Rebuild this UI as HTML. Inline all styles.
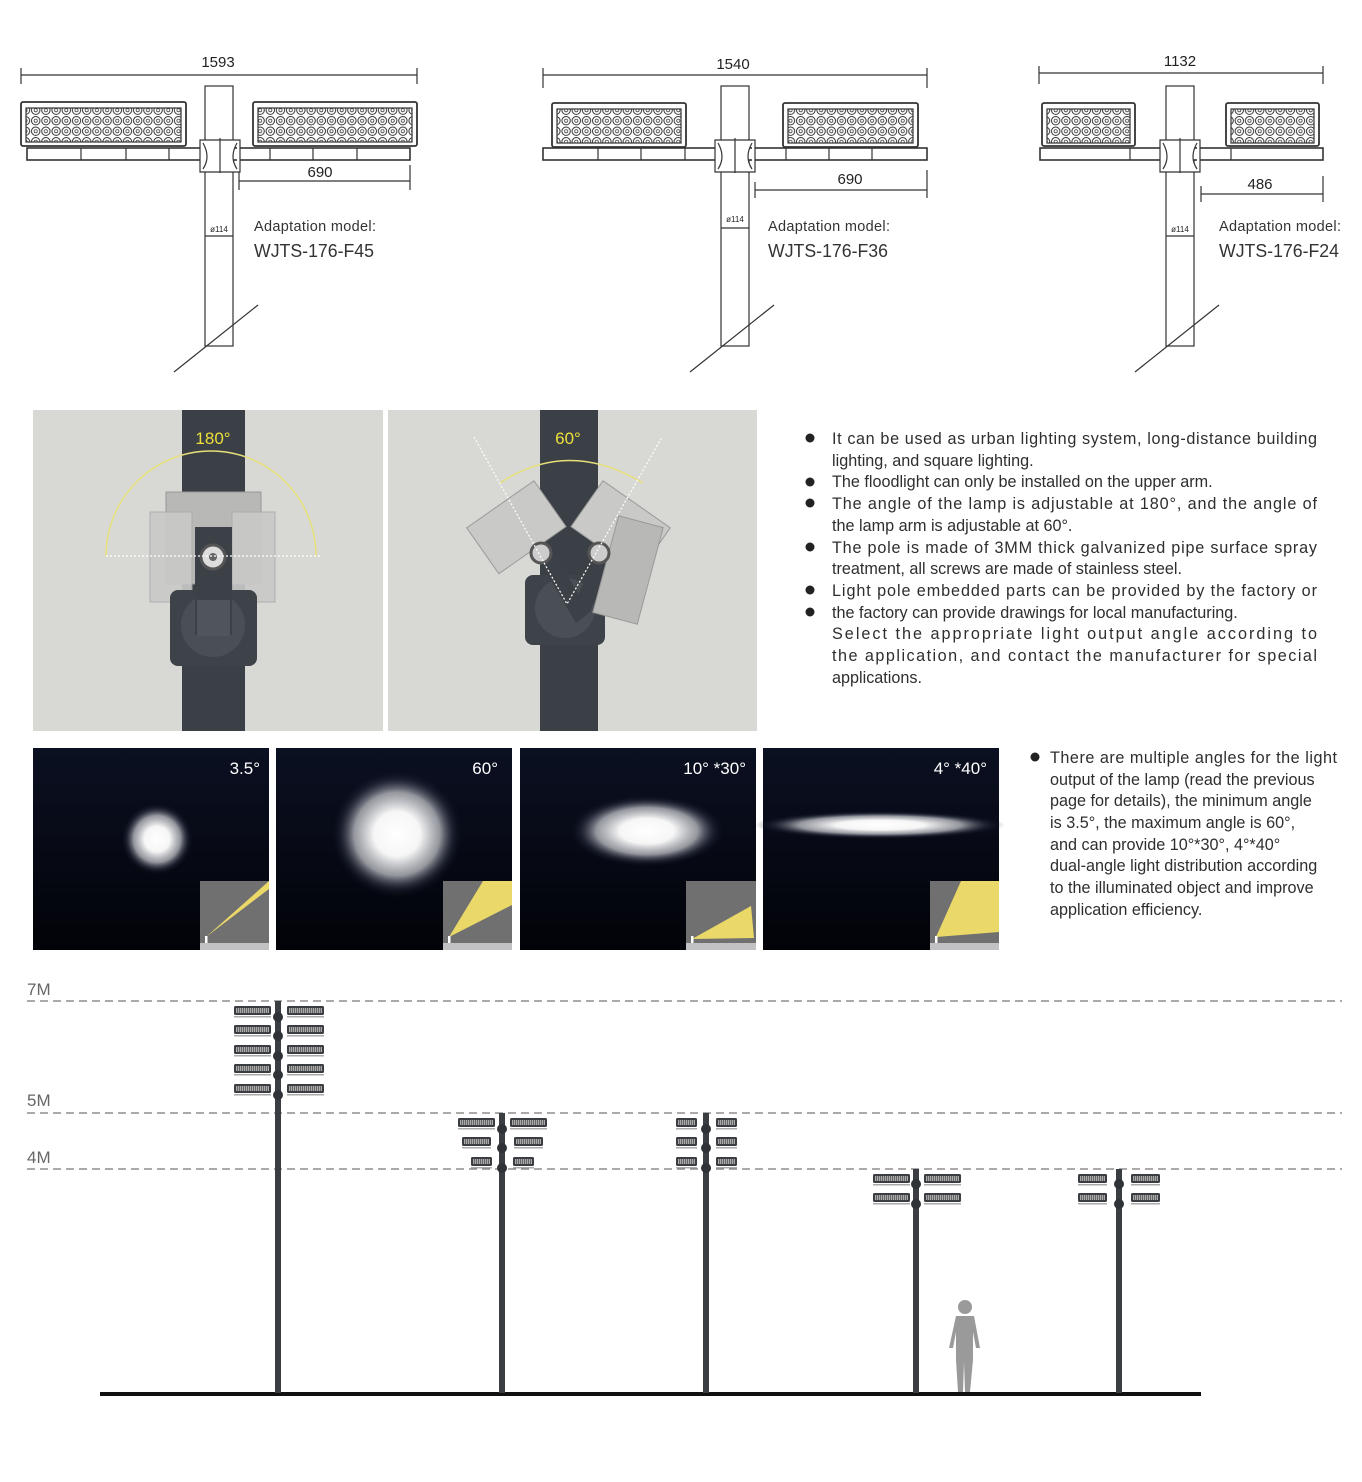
<!DOCTYPE html>
<html><head><meta charset="utf-8"><style>
html,body{margin:0;padding:0;background:#fff;}
svg{display:block;font-family:"Liberation Sans",sans-serif;}
</style></head><body>
<svg width="1362" height="1482" viewBox="0 0 1362 1482" xmlns="http://www.w3.org/2000/svg">
<defs>
<pattern id="led" x="0" y="0" width="10.2" height="10.5" patternUnits="userSpaceOnUse">
<circle cx="5.1" cy="5.2" r="4.2" fill="#fff" stroke="#333" stroke-width="1"/>
<circle cx="5.1" cy="5.2" r="1.6" fill="none" stroke="#444" stroke-width="0.8"/>
</pattern>
<pattern id="sled" width="2" height="3" patternUnits="userSpaceOnUse"><rect width="2" height="3" fill="#666"/><rect width="1" height="3" fill="#aaa"/></pattern>
<radialGradient id="glow"><stop offset="0" stop-color="#fff"/><stop offset="0.35" stop-color="#f6f6f6"/><stop offset="0.65" stop-color="#b8bac0" stop-opacity="0.8"/><stop offset="0.85" stop-color="#3a3f50" stop-opacity="0.4"/><stop offset="1" stop-color="#0a0f1e" stop-opacity="0"/></radialGradient>
<linearGradient id="bg" x1="0" y1="0" x2="0" y2="1"><stop offset="0" stop-color="#0b1022"/><stop offset="1" stop-color="#020308"/></linearGradient>
<g id="slamp"><rect x="0" y="0" width="37" height="9" rx="1.5" fill="#3a3d42"/><rect x="2" y="2" width="33" height="5" fill="url(#sled)"/><rect x="0" y="10" width="37" height="1.5" fill="#aaa"/></g>
<g id="slamp2"><rect x="0" y="0" width="29" height="9" rx="1.5" fill="#3a3d42"/><rect x="2" y="2" width="25" height="5" fill="url(#sled)"/><rect x="0" y="10" width="29" height="1.5" fill="#aaa"/></g>
<g id="slamp3"><rect x="0" y="0" width="21" height="9" rx="1.5" fill="#3a3d42"/><rect x="2" y="2" width="17" height="5" fill="url(#sled)"/><rect x="0" y="10" width="21" height="1.5" fill="#aaa"/></g>
</defs>

<g stroke="#333" fill="none" stroke-width="1.2">
<line x1="21" y1="75" x2="417" y2="75"/><line x1="21" y1="68" x2="21" y2="84"/><line x1="417" y1="68" x2="417" y2="84"/>
<rect x="205" y="86" width="28" height="260" fill="#fff"/>
<rect x="27" y="148" width="383" height="12" fill="#fff" stroke-width="1.6"/>
<line x1="81" y1="148" x2="81" y2="160"/><line x1="126" y1="148" x2="126" y2="160"/><line x1="169" y1="148" x2="169" y2="160"/><line x1="270" y1="148" x2="270" y2="160"/><line x1="313" y1="148" x2="313" y2="160"/><line x1="357" y1="148" x2="357" y2="160"/>
<rect x="21" y="102" width="165" height="44" rx="2" fill="#fff" stroke-width="1.8"/><rect x="26" y="108" width="155" height="34" fill="url(#led)"/>
<rect x="253" y="102" width="164" height="44" rx="2" fill="#fff" stroke-width="1.8"/><rect x="258" y="108" width="154" height="34" fill="url(#led)"/>
<path d="M200 140h40v32h-40z M203 143q8 14 0 26 M237 143q-8 14 0 26 M220 138v35" fill="#fff"/>
<line x1="239" y1="181" x2="410" y2="181"/><line x1="239" y1="172" x2="239" y2="190"/><line x1="410" y1="165" x2="410" y2="190"/>
<line x1="205" y1="236" x2="233" y2="236"/>
<line x1="174" y1="372" x2="258" y2="305"/>
<line x1="543" y1="75" x2="927" y2="75"/><line x1="543" y1="68" x2="543" y2="88"/><line x1="927" y1="68" x2="927" y2="88"/>
<rect x="721" y="86" width="28" height="260" fill="#fff"/>
<rect x="543" y="148" width="384" height="12" fill="#fff" stroke-width="1.6"/>
<line x1="598" y1="148" x2="598" y2="160"/><line x1="641" y1="148" x2="641" y2="160"/><line x1="685" y1="148" x2="685" y2="160"/><line x1="786" y1="148" x2="786" y2="160"/><line x1="829" y1="148" x2="829" y2="160"/><line x1="872" y1="148" x2="872" y2="160"/>
<rect x="552" y="103" width="134" height="44" rx="2" fill="#fff" stroke-width="1.8"/><rect x="557" y="109" width="124" height="34" fill="url(#led)"/>
<rect x="783" y="103" width="135" height="44" rx="2" fill="#fff" stroke-width="1.8"/><rect x="788" y="109" width="125" height="34" fill="url(#led)"/>
<path d="M715 140h40v32h-40z M718 143q8 14 0 26 M752 143q-8 14 0 26 M735 138v35" fill="#fff"/>
<line x1="755" y1="190" x2="927" y2="190"/><line x1="755" y1="182" x2="755" y2="198"/><line x1="927" y1="170" x2="927" y2="198"/>
<line x1="721" y1="228" x2="749" y2="228"/>
<line x1="690" y1="372" x2="774" y2="305"/>
<line x1="1039" y1="73" x2="1323" y2="73"/><line x1="1039" y1="66" x2="1039" y2="84"/><line x1="1323" y1="66" x2="1323" y2="84"/>
<rect x="1166" y="86" width="28" height="260" fill="#fff"/>
<rect x="1040" y="148" width="283" height="12" fill="#fff" stroke-width="1.6"/>
<line x1="1130" y1="148" x2="1130" y2="160"/><line x1="1231" y1="148" x2="1231" y2="160"/>
<rect x="1042" y="103" width="93" height="43" rx="2" fill="#fff" stroke-width="1.8"/><rect x="1047" y="109" width="83" height="34" fill="url(#led)"/>
<rect x="1226" y="103" width="93" height="43" rx="2" fill="#fff" stroke-width="1.8"/><rect x="1231" y="109" width="83" height="34" fill="url(#led)"/>
<path d="M1160 140h40v32h-40z M1163 143q8 14 0 26 M1197 143q-8 14 0 26 M1180 138v35" fill="#fff"/>
<line x1="1201" y1="194" x2="1323" y2="194"/><line x1="1201" y1="186" x2="1201" y2="202"/><line x1="1323" y1="176" x2="1323" y2="202"/>
<line x1="1166" y1="236" x2="1194" y2="236"/>
<line x1="1135" y1="372" x2="1219" y2="305"/>
</g>
<g fill="#222" font-size="15">
<text x="218" y="67" text-anchor="middle">1593</text>
<text x="320" y="177" text-anchor="middle">690</text>
<text x="733" y="69" text-anchor="middle">1540</text>
<text x="850" y="184" text-anchor="middle">690</text>
<text x="1180" y="66" text-anchor="middle">1132</text>
<text x="1260" y="189" text-anchor="middle">486</text>
<text x="219" y="232" text-anchor="middle" font-size="8">ø114</text>
<text x="735" y="222" text-anchor="middle" font-size="8">ø114</text>
<text x="1180" y="232" text-anchor="middle" font-size="8">ø114</text>
</g>
<g fill="#333">
<text x="254" y="231" font-size="14.5" textLength="122">Adaptation model:</text><text x="254" y="257" font-size="18" textLength="120" lengthAdjust="spacingAndGlyphs">WJTS-176-F45</text>
<text x="768" y="231" font-size="14.5" textLength="122">Adaptation model:</text><text x="768" y="257" font-size="18" textLength="120" lengthAdjust="spacingAndGlyphs">WJTS-176-F36</text>
<text x="1219" y="231" font-size="14.5" textLength="122">Adaptation model:</text><text x="1219" y="257" font-size="18" textLength="120" lengthAdjust="spacingAndGlyphs">WJTS-176-F24</text>
</g>

<rect x="33" y="410" width="350" height="321" fill="#d8d8d4"/>
<rect x="182" y="410" width="63" height="321" fill="#3b4047"/>
<path d="M106 556 A105 105 0 0 1 316 556" fill="none" stroke="#e6e07a" stroke-width="1.5"/>
<rect x="166" y="492" width="95" height="92" fill="#b8b8b6" stroke="#999"/>
<rect x="150" y="512" width="42" height="90" fill="#c9cac8" opacity="0.9" stroke="#aaa"/>
<rect x="232" y="512" width="43" height="90" fill="#c9cac8" opacity="0.9" stroke="#aaa"/>
<rect x="170" y="590" width="87" height="76" rx="8" fill="#3e434a"/>
<circle cx="213" cy="625" r="32" fill="#4a4f56"/>
<rect x="195" y="527" width="37" height="108" fill="#3c4148"/>
<rect x="197" y="600" width="33" height="36" fill="#50555c"/>
<circle cx="213" cy="557" r="12" fill="#ddd" stroke="#555" stroke-width="3"/><circle cx="213" cy="557" r="4" fill="#666"/>
<line x1="106" y1="556" x2="320" y2="556" stroke="#fff" stroke-width="1.3" stroke-dasharray="2,2"/>
<text x="213" y="444" fill="#ede03a" font-size="17" text-anchor="middle">180°</text>
<rect x="388" y="410" width="369" height="321" fill="#d8d8d4"/>
<rect x="540" y="410" width="58" height="321" fill="#3b4047"/>
<path d="M500 483 Q568 438 643 483" fill="none" stroke="#e6e07a" stroke-width="1.5"/>
<rect x="525" y="575" width="80" height="70" rx="8" fill="#3e434a"/>
<circle cx="565" cy="608" r="30" fill="#4a4f56"/>
<polygon points="533,550 548,545 590,612 576,623" fill="#3c4148"/>
<polygon points="600,545 615,550 590,612 576,600" fill="#3c4148"/>
<g transform="rotate(-35 515 527)"><rect x="475" y="500" width="82" height="56" fill="#c9cac8" stroke="#999"/></g>
<g transform="rotate(35 622 527)"><rect x="580" y="500" width="82" height="56" fill="#c9cac8" stroke="#999"/></g>
<g transform="rotate(15 628 570)"><rect x="605" y="520" width="46" height="100" fill="#b8b8b6" stroke="#999"/></g>
<circle cx="541" cy="553" r="10" fill="#ccc" stroke="#555" stroke-width="3"/>
<circle cx="599" cy="553" r="10" fill="#ccc" stroke="#555" stroke-width="3"/>
<path d="M474 437 L567 604 L662 437" fill="none" stroke="#fff" stroke-width="1.2" stroke-dasharray="2,2"/>
<text x="568" y="444" fill="#ede03a" font-size="17" text-anchor="middle">60°</text>

<g fill="#222"><circle cx="810" cy="438" r="4.5"/><circle cx="810" cy="482" r="4.5"/><circle cx="810" cy="503" r="4.5"/><circle cx="810" cy="547" r="4.5"/><circle cx="810" cy="590" r="4.5"/><circle cx="810" cy="612" r="4.5"/>
<circle cx="1035" cy="757" r="4.5"/></g>
<g fill="#2e2e2e" font-size="16.2">
<text x="832" y="444" textLength="485" lengthAdjust="spacing">It can be used as urban lighting system, long-distance building</text>
<text x="832" y="466">lighting, and square lighting.</text>
<text x="832" y="487">The floodlight can only be installed on the upper arm.</text>
<text x="832" y="509" textLength="485" lengthAdjust="spacing">The angle of the lamp is adjustable at 180°, and the angle of</text>
<text x="832" y="531">the lamp arm is adjustable at 60°.</text>
<text x="832" y="553" textLength="485" lengthAdjust="spacing">The pole is made of 3MM thick galvanized pipe surface spray</text>
<text x="832" y="574">treatment, all screws are made of stainless steel.</text>
<text x="832" y="596" textLength="485" lengthAdjust="spacing">Light pole embedded parts can be provided by the factory or</text>
<text x="832" y="618">the factory can provide drawings for local manufacturing.</text>
<text x="832" y="639" textLength="485" lengthAdjust="spacing">Select the appropriate light output angle according to</text>
<text x="832" y="661" textLength="485" lengthAdjust="spacing">the application, and contact the manufacturer for special</text>
<text x="832" y="683">applications.</text>
<text x="1050" y="763" textLength="287" lengthAdjust="spacing">There are multiple angles for the light</text>
<text x="1050" y="785">output  of the lamp (read the previous</text>
<text x="1050" y="806">page for details), the minimum angle</text>
<text x="1050" y="828">is 3.5°, the maximum  angle is 60°,</text>
<text x="1050" y="850">and can provide 10°*30°, 4°*40°</text>
<text x="1050" y="871">dual-angle light distribution according</text>
<text x="1050" y="893">to the  illuminated object and improve</text>
<text x="1050" y="915">application  efficiency.</text>
</g>

<g>
<rect x="33" y="748" width="236" height="202" fill="url(#bg)"/>
<rect x="276" y="748" width="236" height="202" fill="url(#bg)"/>
<rect x="520" y="748" width="236" height="202" fill="url(#bg)"/>
<rect x="763" y="748" width="236" height="202" fill="url(#bg)"/>
<ellipse cx="157" cy="839" rx="36" ry="36" fill="url(#glow)"/>
<ellipse cx="397" cy="834" rx="66" ry="64" fill="url(#glow)"/>
<ellipse cx="647" cy="831" rx="78" ry="36" fill="url(#glow)"/>
<ellipse cx="880" cy="825" rx="125" ry="14" fill="url(#glow)"/>
<g fill="#fff" font-size="17" text-anchor="end">
<text x="260" y="774">3.5°</text><text x="498" y="774">60°</text><text x="746" y="774">10° *30°</text><text x="987" y="774">4° *40°</text>
</g>
<g fill="#707070"><rect x="200" y="881" width="69" height="62"/><rect x="443" y="881" width="69" height="62"/><rect x="686" y="881" width="70" height="62"/><rect x="930" y="881" width="69" height="62"/></g>
<g fill="#c2c2c4"><rect x="200" y="943" width="69" height="7"/><rect x="443" y="943" width="69" height="7"/><rect x="686" y="943" width="70" height="7"/><rect x="930" y="943" width="69" height="7"/></g>
<g fill="#ead868">
<polygon points="206,937 269,881 269,889"/>
<polygon points="449,937 483,881 512,881 512,905"/>
<polygon points="692,939 751,906 754,938"/>
<polygon points="936,937 961,881 999,881 999,932"/>
</g>
<g fill="#fff"><rect x="205" y="936" width="2.5" height="7"/><rect x="448" y="936" width="2.5" height="7"/><rect x="691" y="936" width="2.5" height="7"/><rect x="935" y="936" width="2.5" height="7"/></g>
</g>

<g stroke="#777" stroke-width="1.2" stroke-dasharray="8,5">
<line x1="27" y1="1001" x2="1342" y2="1001"/><line x1="27" y1="1113" x2="1342" y2="1113"/><line x1="27" y1="1169" x2="1342" y2="1169"/>
</g>
<g fill="#666" font-size="17"><text x="27" y="995">7M</text><text x="27" y="1106">5M</text><text x="27" y="1163">4M</text></g>
<rect x="100" y="1392" width="1101" height="4" fill="#111"/>
<g fill="#3a3d42">
<rect x="275" y="1001" width="6" height="392"/>
<rect x="499" y="1113" width="6" height="280"/>
<rect x="703" y="1113" width="6" height="280"/>
<rect x="913" y="1169" width="6" height="224"/>
<rect x="1116" y="1169" width="6" height="224"/>
</g>
<g>
<use href="#slamp" x="234" y="1006"/><use href="#slamp" x="287" y="1006"/>
<use href="#slamp" x="234" y="1025"/><use href="#slamp" x="287" y="1025"/>
<use href="#slamp" x="234" y="1045"/><use href="#slamp" x="287" y="1045"/>
<use href="#slamp" x="234" y="1064"/><use href="#slamp" x="287" y="1064"/>
<use href="#slamp" x="234" y="1084"/><use href="#slamp" x="287" y="1084"/>
<use href="#slamp" x="458" y="1118"/><use href="#slamp" x="510" y="1118"/>
<use href="#slamp2" x="462" y="1137"/><use href="#slamp2" x="514" y="1137"/>
<use href="#slamp3" x="471" y="1157"/><use href="#slamp3" x="513" y="1157"/>
<use href="#slamp3" x="676" y="1118"/><use href="#slamp3" x="716" y="1118"/>
<use href="#slamp3" x="676" y="1137"/><use href="#slamp3" x="716" y="1137"/>
<use href="#slamp3" x="676" y="1157"/><use href="#slamp3" x="716" y="1157"/>
<use href="#slamp" x="873" y="1174"/><use href="#slamp" x="924" y="1174"/>
<use href="#slamp" x="873" y="1193"/><use href="#slamp" x="924" y="1193"/>
<use href="#slamp2" x="1078" y="1174"/><use href="#slamp2" x="1131" y="1174"/>
<use href="#slamp2" x="1078" y="1193"/><use href="#slamp2" x="1131" y="1193"/>
</g>
<g fill="#2f3237">
<circle cx="278" cy="1017" r="5"/><circle cx="278" cy="1036" r="5"/><circle cx="278" cy="1056" r="5"/><circle cx="278" cy="1075" r="5"/><circle cx="278" cy="1095" r="5"/>
<circle cx="502" cy="1129" r="5"/><circle cx="502" cy="1148" r="5"/><circle cx="502" cy="1168" r="5"/>
<circle cx="706" cy="1129" r="5"/><circle cx="706" cy="1148" r="5"/><circle cx="706" cy="1168" r="5"/>
<circle cx="916" cy="1184" r="5"/><circle cx="916" cy="1204" r="5"/>
<circle cx="1119" cy="1184" r="5"/><circle cx="1119" cy="1204" r="5"/>
</g>
<g fill="#9a9a9a">
<circle cx="965" cy="1307" r="7"/>
<path d="M956 1316 h18 l6 32 h-4 l-3 -16 v28 l-3 32 h-5 l-1 -30 l-1 30 h-5 l-2 -32 v-28 l-3 16 h-4 z"/>
</g>
</svg>
</body></html>
